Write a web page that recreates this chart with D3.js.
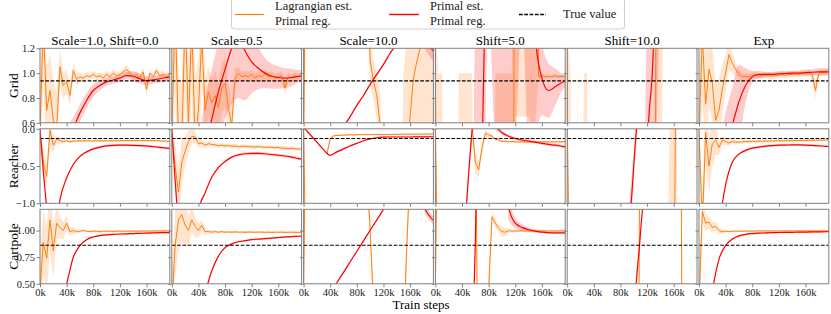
<!DOCTYPE html>
<html>
<head>
<meta charset="utf-8">
<script src="https://cdn.jsdelivr.net/npm/d3@7"></script>
<style>
  body { margin: 0; background: #fff; }
  text { font-family: "Liberation Serif", "DejaVu Serif", serif; }
</style>
</head>
<body>
<svg id="chart" width="831" height="314"></svg>
<script>
// train steps (in thousands)
const steps = [0, 5, 10, 15, 20, 25, 30, 35, 40, 45, 50, 55, 60, 65, 70, 75, 80, 85, 90, 95,
  100, 105, 110, 115, 120, 125, 130, 135, 140, 145, 150, 155, 160, 165, 170, 175, 180, 185, 190, 195]
const stepsPrimal = [0, 10, 20, 30, 40, 50, 60, 70, 80, 90, 100, 110, 120, 130, 140, 150, 160, 170, 180, 190, 200]

const columns = ['Scale=1.0, Shift=0.0', 'Scale=0.5', 'Scale=10.0', 'Shift=5.0', 'Shift=10.0', 'Exp']
const rows = ['Grid', 'Reacher', 'Cartpole']
const trueValues = [0.938, -0.13, 0.862]
const yDomains = [[0.6, 1.2], [-1.0, 0.0], [0.5, 1.2]]
const yTicks = [[0.6, 0.8, 1.0, 1.2], [-1.0, -0.5, 0.0], [0.5, 0.75, 1.0]]
const xTicks = [0, 40, 80, 120, 160]
const legendNames = [['Lagrangian est.', 'Primal reg.'], ['Primal est.', 'Primal reg.'], ['True value']]

// ---- Grid ----
const gridLag = [
  [0.55, 1.4, 0.7, 0.86, 0.62, 0.55, 1.05, 0.9, 0.93, 0.82,
    1.02, 0.95, 0.97, 0.96, 0.98, 0.97, 0.99, 0.97, 0.98, 0.96,
    0.99, 0.97, 1.0, 0.98, 0.99, 1.01, 1.03, 1.0, 0.97, 0.99,
    0.96, 1.01, 0.87, 1.0, 0.97, 1.02, 0.98, 0.99, 0.97, 0.98],
  [0.5, 1.5, 0.5, 0.4, 1.5, 0.6, 1.4, 0.45, 0.7, 1.3,
    0.7, 0.85, 0.76, 0.82, 0.72, 0.88, 0.92, 0.72, 0.58, 0.96,
    1.0, 0.97, 0.98, 0.97, 0.99, 0.96, 0.98, 0.97, 0.99, 0.97,
    0.98, 0.96, 0.97, 0.98, 0.88, 0.97, 0.96, 0.98, 0.97, 0.98],
  [0.4, 3, 3, 3, 3, 3, 3, 3, 3, 3,
    3, 3, 3, 3, 3, 3, 3, 3, 3, 2,
    1.1, 0.94, 0.82, 0.58, -0.5, -1, -1, -1, -1, -1,
    -0.5, 0.3, 0.65, 0.96, 1.09, 1.2, 2.5, 3, 3, 3],
  [1.25, -5, -5, -5, -5, -5, -5, -5, -5, -5,
    -5, -5, -5, -5, -5, -5, -5, -5, -5, -5,
    -5, -5, -5, -5, 5, 5, 5, 5, 5, 5,
    5, 0.97, 0.98, 0.97, 0.975, 0.97, 0.98, 0.97, 0.975, 0.97],
  [1.25, -5, -5, -5, -5, -5, -5, -5, -5, -5,
    -5, -5, -5, -5, -5, -5, -5, -5, -5, -5,
    -5, -5, -5, -5, -5, -5, -5, 5, 5, 5,
    5, 5, 5, 5, 5, 5, 5, 5, 5, 5],
  [0.5, 1.3, 0.75, 1.03, 0.92, 0.62, 0.7, 0.87, 1.0, 1.15,
    1.08, 1.03, 0.99, 0.97, 0.975, 0.97, 0.98, 0.985, 0.975, 0.98,
    0.985, 0.98, 0.975, 0.98, 0.985, 0.99, 0.98, 0.99, 0.99, 0.995,
    0.99, 1.0, 0.995, 1.0, 0.99, 0.86, 1.0, 1.005, 1.01, 1.01]
]
const gridLagSd = [
  [0.3, 0.5, 0.35, 0.3, 0.3, 0.3, 0.15, 0.1, 0.1, 0.08,
    0.06, 0.05, 0.04, 0.03, 0.03, 0.03, 0.03, 0.03, 0.03, 0.03,
    0.03, 0.03, 0.03, 0.03, 0.03, 0.03, 0.04, 0.03, 0.03, 0.03,
    0.03, 0.03, 0.06, 0.03, 0.03, 0.03, 0.03, 0.03, 0.03, 0.03],
  [0.5, 0.6, 0.5, 0.5, 0.6, 0.5, 0.5, 0.5, 0.4, 0.4,
    0.25, 0.2, 0.2, 0.2, 0.2, 0.2, 0.2, 0.2, 0.2, 0.08,
    0.05, 0.04, 0.04, 0.04, 0.04, 0.04, 0.04, 0.04, 0.04, 0.04,
    0.035, 0.035, 0.035, 0.035, 0.06, 0.035, 0.03, 0.03, 0.03, 0.03],
  [0.5, 0.3, 0.3, 0.3, 0.3, 0.3, 0.3, 0.3, 0.3, 0.3,
    0.3, 0.3, 0.3, 0.3, 0.3, 0.3, 0.3, 0.3, 0.3, 0.5,
    0.2, 0.15, 0.2, 0.25, 0.3, 0.3, 0.3, 0.3, 0.3, 0.3,
    1.5, 1.0, 0.7, 0.6, 0.6, 0.7, 2.0, 2.5, 2.5, 2.5],
  [0.1, 6, 6, 2, 2, 2, 2, 6, 6, 6,
    6, 6, 2, 2, 2, 2, 2, 2, 6, 6,
    6, 6, 6, 6, 4.35, 4.35, 4.35, 4.35, 4.35, 4.4,
    4.4, 0.03, 0.02, 0.02, 0.015, 0.015, 0.015, 0.015, 0.015, 0.015],
  [0.1, 6, 2, 6, 2, 6, 6, 2, 2, 2,
    2, 2, 2, 2, 2, 2, 2, 2, 2, 2,
    2, 2, 2, 2, 2, 2, 2, 6, 6, 3,
    3, 3, 3, 3, 3, 3, 3, 3, 3, 3],
  [0.5, 0.5, 0.4, 0.3, 0.3, 0.3, 0.25, 0.2, 0.15, 0.12,
    0.08, 0.05, 0.04, 0.03, 0.025, 0.025, 0.025, 0.025, 0.025, 0.025,
    0.025, 0.025, 0.025, 0.025, 0.025, 0.025, 0.025, 0.025, 0.025, 0.025,
    0.025, 0.025, 0.025, 0.025, 0.03, 0.07, 0.03, 0.025, 0.025, 0.025]
]
const gridPri = [
  [-0.5, -0.1, 0.18, 0.36, 0.47, 0.56, 0.68, 0.78, 0.86, 0.9, 0.93, 0.945, 0.96, 0.98, 0.975, 0.955, 0.94, 0.945, 0.955, 0.965, 0.97],
  [-1.2, -0.9, -0.6, -0.3, 0.05, 0.4, 0.63, 0.85, 1.03, 1.2, 1.3, 1.18, 1.09, 1.04, 1.0, 0.975, 0.965, 0.96, 0.965, 0.975, 0.98],
  [0.06, 0.145, 0.23, 0.31, 0.4, 0.48, 0.57, 0.65, 0.74, 0.82, 0.91, 0.99, 1.07, 1.16, 1.24, 1.33, 1.41, 1.45, 1.3, 1.21, 1.15],
  [-5, -5, -5, -5, -5, -5, -3, 0.3, 3, 5, 5, 5, 5, 5, 5, 1.3, 0.96, 0.86, 0.89, 0.925, 0.94],
  [-5, -5, -5, -5, -5, -5, -5, -5, -5, -5, -5, -5, 0.3, 1.3, 5, 5, 5, 5, 5, 5, 5],
  [-1.5, -0.8, -0.3, 0.1, 0.38, 0.58, 0.77, 0.9, 0.97, 0.99, 0.99, 0.99, 0.995, 0.997, 1.0, 1.0, 1.005, 1.007, 1.01, 1.01, 1.01]
]
const gridPriSd = [
  [0.1, 0.1, 0.1, 0.1, 0.1, 0.08, 0.07, 0.06, 0.05, 0.04, 0.03, 0.03, 0.03, 0.03, 0.04, 0.04, 0.035, 0.03, 0.03, 0.03, 0.03],
  [0.3, 0.3, 0.3, 0.3, 0.35, 0.4, 0.4, 0.4, 0.4, 0.45, 0.5, 0.4, 0.25, 0.17, 0.12, 0.1, 0.09, 0.08, 0.07, 0.05, 0.05],
  [0.01, 0.01, 0.01, 0.01, 0.01, 0.01, 0.01, 0.01, 0.01, 0.01, 0.01, 0.01, 0.01, 0.01, 0.01, 0.01, 0.02, 0.05, 0.08, 0.08, 0.08],
  [1, 1, 1, 1, 1, 1, 4.5, 2, 1.5, 4.5, 4.5, 4.5, 4.5, 3.5, 4.6, 0.8, 0.3, 0.22, 0.15, 0.07, 0.04],
  [1, 1, 1, 1, 1, 1, 1, 1, 1, 1, 1, 3, 1.2, 1.5, 3.5, 3, 3, 3, 3, 3, 3],
  [0.3, 0.3, 0.3, 0.3, 0.3, 0.3, 0.3, 0.14, 0.05, 0.03, 0.02, 0.02, 0.02, 0.02, 0.02, 0.02, 0.025, 0.025, 0.03, 0.03, 0.03]
]

// ---- Reacher ----
const reacherLag = [
  [-0.05, -0.45, -0.64, -0.02, -0.22, -0.14, -0.16, -0.17, -0.16, -0.175,
    -0.165, -0.165, -0.16, -0.165, -0.16, -0.162, -0.165, -0.16, -0.163, -0.16,
    -0.162, -0.158, -0.16, -0.162, -0.158, -0.16, -0.157, -0.16, -0.158, -0.16,
    -0.157, -0.16, -0.158, -0.16, -0.157, -0.16, -0.162, -0.165, -0.167, -0.17],
  [-0.05, -0.5, -0.85, -0.45, -0.3, -0.17, -0.1, -0.11, -0.2, -0.19,
    -0.22, -0.2, -0.21, -0.215, -0.225, -0.22, -0.23, -0.225, -0.235, -0.23,
    -0.24, -0.235, -0.235, -0.24, -0.24, -0.245, -0.24, -0.245, -0.25, -0.245,
    -0.25, -0.255, -0.25, -0.26, -0.26, -0.265, -0.26, -0.27, -0.27, -0.275],
  [0.1, -3, null, null, null, null, null, -0.34, -0.13, -0.095,
    -0.09, -0.088, -0.085, -0.082, -0.08, -0.083, -0.08, -0.078, -0.08, -0.078,
    -0.077, -0.078, -0.076, -0.077, -0.075, -0.076, -0.075, -0.074, -0.075, -0.073,
    -0.074, -0.073, -0.072, -0.073, -0.072, -0.071, -0.072, -0.071, -0.07, -0.07],
  [0.1, -3, null, null, null, null, null, null, null, null,
    null, 0.05, -0.45, -0.55, -0.26, -0.06, -0.08, -0.1, -0.14, -0.15,
    -0.17, -0.165, -0.175, -0.17, -0.175, -0.178, -0.175, -0.177, -0.175, -0.178,
    -0.176, -0.175, -0.177, -0.175, -0.176, -0.174, -0.175, -0.173, -0.174, -0.172],
  [0.1, -3, null, null, null, null, null, null, null, null,
    null, null, null, null, null, null, null, null, null, null,
    null, null, null, null, null, null, null, null, null, null,
    -3, -3, -3, 3, null, null, null, null, null, null],
  [-0.02, -1.3, -0.05, -0.5, -0.2, -0.15, -0.25, -0.15, -0.17, -0.19,
    -0.17, -0.18, -0.18, -0.175, -0.17, -0.172, -0.168, -0.17, -0.165, -0.167,
    -0.165, -0.163, -0.165, -0.162, -0.16, -0.162, -0.16, -0.158, -0.16, -0.157,
    -0.158, -0.155, -0.157, -0.155, -0.153, -0.155, -0.152, -0.153, -0.15, -0.15]
]
const reacherLagSd = [
  [0.05, 0.2, 0.15, 0.2, 0.1, 0.05, 0.04, 0.03, 0.02, 0.02,
    0.02, 0.015, 0.015, 0.015, 0.015, 0.015, 0.015, 0.015, 0.015, 0.015,
    0.015, 0.015, 0.015, 0.015, 0.015, 0.015, 0.015, 0.015, 0.015, 0.015,
    0.015, 0.015, 0.015, 0.015, 0.015, 0.015, 0.015, 0.015, 0.015, 0.015],
  [0.1, 0.3, 0.3, 0.3, 0.2, 0.15, 0.1, 0.08, 0.06, 0.05,
    0.04, 0.035, 0.03, 0.03, 0.03, 0.03, 0.03, 0.03, 0.03, 0.03,
    0.025, 0.025, 0.025, 0.025, 0.025, 0.025, 0.025, 0.025, 0.025, 0.025,
    0.025, 0.025, 0.025, 0.025, 0.025, 0.025, 0.025, 0.025, 0.025, 0.025],
  [0.2, 0.2, null, null, null, null, null, 0.05, 0.02, 0.015,
    0.01, 0.01, 0.01, 0.01, 0.01, 0.01, 0.01, 0.01, 0.01, 0.01,
    0.01, 0.01, 0.01, 0.01, 0.01, 0.01, 0.01, 0.01, 0.01, 0.01,
    0.01, 0.01, 0.01, 0.01, 0.01, 0.01, 0.01, 0.01, 0.01, 0.01],
  [0.2, 0.2, null, null, null, null, null, null, null, null,
    null, 0.1, 0.15, 0.1, 0.08, 0.04, 0.03, 0.025, 0.02, 0.02,
    0.015, 0.015, 0.015, 0.015, 0.015, 0.015, 0.015, 0.015, 0.015, 0.015,
    0.015, 0.015, 0.015, 0.015, 0.015, 0.015, 0.015, 0.015, 0.015, 0.015],
  [0.5, 1, null, null, null, null, null, null, null, null,
    null, null, null, null, null, null, null, null, null, null,
    null, null, null, null, null, null, null, null, null, null,
    1, 3.5, 3.5, 3.5, null, null, null, null, null, null],
  [0.1, 0.4, 0.4, 0.35, 0.3, 0.2, 0.1, 0.06, 0.05, 0.04,
    0.03, 0.03, 0.025, 0.025, 0.02, 0.02, 0.02, 0.02, 0.02, 0.02,
    0.02, 0.02, 0.02, 0.02, 0.02, 0.02, 0.02, 0.02, 0.02, 0.02,
    0.02, 0.02, 0.02, 0.02, 0.02, 0.02, 0.02, 0.02, 0.02, 0.02]
]
const reacherPri = [
  [0.0, -1.05, -1.6, -0.95, -0.66, -0.48, -0.37, -0.31, -0.27, -0.245, -0.23, -0.222, -0.22, -0.22, -0.222, -0.225, -0.23, -0.24, -0.25, -0.26, -0.265],
  [0.0, -1.3, -2.2, -1.8, -1.1, -0.86, -0.65, -0.52, -0.44, -0.38, -0.35, -0.335, -0.33, -0.33, -0.335, -0.345, -0.355, -0.365, -0.38, -0.4, -0.41],
  [0.02, -0.08, -0.18, -0.28, -0.355, -0.31, -0.27, -0.23, -0.195, -0.16, -0.135, -0.12, -0.113, -0.11, -0.11, -0.11, -0.11, -0.108, -0.108, -0.107, -0.107],
  [-5, -5, -5, -4, -2, -0.6, 0.5, 1.5, 1.0, 0.06, -0.05, -0.1, -0.13, -0.15, -0.165, -0.18, -0.195, -0.21, -0.22, -0.235, -0.245],
  [-5, -5, -5, -5, -5, -5, -5, -5, -5, -2, -0.5, 0.8, 3, 5, 5, 5, 5, 5, 5, 5, 5],
  [-3, -2.5, -1.9, -1.3, -0.75, -0.45, -0.34, -0.29, -0.26, -0.245, -0.232, -0.225, -0.22, -0.218, -0.216, -0.216, -0.218, -0.222, -0.228, -0.235, -0.24]
]
const reacherPriSd = [
  [0.015, 0.015, 0.015, 0.015, 0.015, 0.015, 0.015, 0.015, 0.015, 0.015, 0.015, 0.015, 0.015, 0.015, 0.015, 0.015, 0.015, 0.015, 0.015, 0.015, 0.015],
  [0.015, 0.015, 0.015, 0.015, 0.015, 0.015, 0.015, 0.015, 0.015, 0.015, 0.02, 0.02, 0.02, 0.02, 0.02, 0.02, 0.02, 0.02, 0.02, 0.02, 0.02],
  [0.01, 0.01, 0.01, 0.01, 0.01, 0.01, 0.01, 0.01, 0.01, 0.01, 0.01, 0.01, 0.01, 0.01, 0.01, 0.01, 0.01, 0.01, 0.01, 0.01, 0.01],
  [0.3, 0.3, 0.3, 0.3, 0.2, 0.1, 0.1, 0.2, 0.2, 0.05, 0.03, 0.02, 0.02, 0.02, 0.02, 0.02, 0.02, 0.02, 0.02, 0.02, 0.02],
  [0.5, 0.5, 0.5, 0.5, 0.5, 0.5, 0.5, 0.5, 0.5, 0.5, 0.2, 0.3, 1, 1, 1, 1, 1, 1, 1, 1, 1],
  [0.015, 0.015, 0.015, 0.015, 0.015, 0.015, 0.015, 0.015, 0.015, 0.015, 0.015, 0.015, 0.015, 0.015, 0.015, 0.015, 0.015, 0.015, 0.015, 0.015, 0.015]
]

// ---- Cartpole ----
const cartpoleLag = [
  [0.45, 0.89, 0.74, 1.1, 0.81, 1.07, 1.03, 1.0, 1.07, 0.99,
    1.0, 0.99, 0.995, 1.0, 0.995, 0.99, 0.995, 0.993, 0.99, 0.995,
    0.993, 0.995, 0.992, 0.994, 0.995, 0.993, 0.995, 0.994, 0.996, 0.994,
    0.995, 0.996, 0.995, 0.996, 0.997, 0.996, 0.997, 0.996, 0.997, 0.997],
  [0.3, 0.86, 1.1, 1.15, 1.05, 1.0, 1.1, 1.04, 1.0, 1.05,
    0.99, 0.99, 0.985, 0.99, 0.985, 0.99, 0.985, 0.987, 0.985, 0.988,
    0.985, 0.986, 0.984, 0.986, 0.985, 0.984, 0.986, 0.985, 0.984, 0.985,
    0.983, 0.985, 0.984, 0.985, 0.983, 0.984, 0.985, 0.984, 0.983, 0.984],
  [0.45, 3, 3, 3, 3, 3, 3, 3, 3, 3,
    3, 3, 3, 3, 3, 3, 3, 3, 3, 1.6,
    1.0, 0.3, -1, -1, -1, -1, -1, -1, -1, -1,
    0.0, 0.85, 1.6, 3, 3, 3, 3, 3, 3, 3],
  [0.45, 3, 3, 3, 3, 3, 3, 3, 3, 3,
    3, 3, 3, -2, -1, -1, 0.45, 1.13, 1.07, 1.02,
    0.99, 0.985, 1.0, 0.995, 0.997, 0.996, 0.997, 0.996, 0.997, 0.997,
    0.996, 0.997, 0.997, 0.996, 0.997, 0.997, 0.996, 0.997, 0.997, 0.997],
  [0.45, -3, -3, -3, -3, -3, -3, -3, -3, -3,
    -3, -3, -3, -3, -3, -3, -3, -3, -3, -3,
    -3, -3, 3, 3, 3, 3, 3, 3, 3, 3,
    3, 3, 3, 3, 3, -3, -3, -3, -3, -3],
  [0.3, 1.18, 1.07, 1.08, 1.03, 1.04, 1.0, 0.99, 0.995, 0.99,
    0.995, 0.993, 0.996, 0.994, 0.995, 0.996, 0.995, 0.996, 0.997, 0.996,
    0.997, 0.996, 0.997, 0.997, 0.996, 0.997, 0.997, 0.998, 0.997, 0.997,
    0.998, 0.997, 0.997, 0.998, 0.997, 0.998, 0.997, 0.998, 0.997, 0.997]
]
const cartpoleLagSd = [
  [0.3, 0.3, 0.3, 0.3, 0.25, 0.15, 0.1, 0.08, 0.07, 0.04,
    0.03, 0.02, 0.015, 0.012, 0.01, 0.01, 0.01, 0.01, 0.01, 0.01,
    0.01, 0.01, 0.01, 0.01, 0.01, 0.01, 0.01, 0.01, 0.01, 0.01,
    0.01, 0.01, 0.01, 0.01, 0.01, 0.01, 0.01, 0.01, 0.01, 0.01],
  [0.3, 0.3, 0.3, 0.25, 0.2, 0.15, 0.12, 0.1, 0.07, 0.05,
    0.03, 0.02, 0.015, 0.012, 0.01, 0.01, 0.01, 0.01, 0.01, 0.01,
    0.01, 0.01, 0.01, 0.01, 0.01, 0.01, 0.01, 0.01, 0.01, 0.01,
    0.01, 0.01, 0.01, 0.01, 0.01, 0.01, 0.01, 0.01, 0.01, 0.01],
  [0.3, 0.5, 0.5, 0.5, 0.5, 0.5, 0.5, 0.5, 0.5, 0.5,
    0.5, 0.5, 0.5, 0.5, 0.5, 0.5, 0.5, 0.5, 0.5, 0.3,
    0.05, 0.2, 0.5, 0.5, 0.5, 0.5, 0.5, 0.5, 0.5, 0.5,
    0.3, 0.1, 0.3, 0.5, 0.5, 0.5, 0.5, 0.5, 0.5, 0.5],
  [0.3, 0.5, 0.5, 0.5, 0.5, 0.5, 0.5, 0.5, 0.5, 0.5,
    0.5, 0.5, 0.5, 0.5, 0.3, 0.3, 0.2, 0.05, 0.04, 0.04,
    0.05, 0.04, 0.02, 0.015, 0.01, 0.01, 0.01, 0.01, 0.01, 0.01,
    0.01, 0.01, 0.01, 0.01, 0.01, 0.01, 0.01, 0.01, 0.01, 0.01],
  [0.3, 0.5, 0.5, 0.5, 0.5, 0.5, 0.5, 0.5, 0.5, 0.5,
    0.5, 0.5, 0.5, 0.5, 0.5, 0.5, 0.5, 0.5, 0.5, 0.5,
    0.5, 0.5, 0.5, 0.5, 0.5, 0.5, 0.5, 0.5, 0.5, 0.5,
    0.5, 0.5, 0.5, 0.5, 0.5, 0.5, 0.5, 0.5, 0.5, 0.5],
  [0.3, 0.1, 0.08, 0.06, 0.05, 0.04, 0.03, 0.02, 0.008, 0.008,
    0.008, 0.008, 0.008, 0.008, 0.008, 0.008, 0.008, 0.008, 0.008, 0.008,
    0.008, 0.008, 0.008, 0.008, 0.008, 0.008, 0.008, 0.008, 0.008, 0.008,
    0.008, 0.008, 0.008, 0.008, 0.008, 0.008, 0.008, 0.008, 0.008, 0.008]
]
const cartpolePri = [
  [-1, -0.3, 0.05, 0.3, 0.5, 0.75, 0.86, 0.915, 0.94, 0.953, 0.96, 0.965, 0.968, 0.97, 0.972, 0.974, 0.976, 0.978, 0.98, 0.981, 0.982],
  [-1, -0.6, -0.2, 0.05, 0.25, 0.42, 0.62, 0.76, 0.84, 0.875, 0.895, 0.905, 0.915, 0.92, 0.925, 0.93, 0.935, 0.94, 0.943, 0.947, 0.95],
  [0.017, 0.115, 0.214, 0.313, 0.411, 0.51, 0.608, 0.707, 0.806, 0.904, 1.003, 1.1, 1.2, 1.3, 1.4, 1.5, 1.6, 1.69, 1.25, 1.13, 1.07],
  [-5, -5, -5, -5, -3, -1.5, 0.9, 5, 5, 5, 5, 1.22, 1.07, 1.03, 1.008, 0.995, 0.985, 0.98, 0.978, 0.978, 0.98],
  [-5, -5, -5, -5, -5, -5, -5, -5, -5, -5, 0.03, 0.97, 1.9, 5, 5, 5, 5, 5, 5, 5, 5],
  [-1, -0.1, 0.42, 0.73, 0.86, 0.92, 0.95, 0.965, 0.972, 0.976, 0.978, 0.98, 0.982, 0.983, 0.984, 0.985, 0.986, 0.987, 0.988, 0.989, 0.99]
]
const cartpolePriSd = [
  [0.008, 0.008, 0.008, 0.008, 0.008, 0.008, 0.008, 0.008, 0.008, 0.008, 0.008, 0.008, 0.008, 0.008, 0.008, 0.008, 0.008, 0.008, 0.008, 0.008, 0.008],
  [0.008, 0.008, 0.008, 0.008, 0.008, 0.008, 0.008, 0.008, 0.008, 0.008, 0.008, 0.008, 0.008, 0.008, 0.008, 0.008, 0.008, 0.008, 0.008, 0.008, 0.008],
  [0.01, 0.01, 0.01, 0.01, 0.01, 0.01, 0.01, 0.01, 0.01, 0.01, 0.01, 0.01, 0.01, 0.01, 0.01, 0.01, 0.02, 0.03, 0.04, 0.04, 0.04],
  [0.5, 0.5, 0.5, 0.5, 0.5, 0.3, 0.1, 0.5, 0.5, 0.5, 0.5, 0.12, 0.05, 0.03, 0.02, 0.015, 0.01, 0.01, 0.01, 0.01, 0.01],
  [0.02, 0.02, 0.02, 0.02, 0.02, 0.02, 0.02, 0.02, 0.02, 0.02, 0.02, 0.02, 0.02, 0.02, 0.02, 0.02, 0.02, 0.02, 0.02, 0.02, 0.02],
  [0.008, 0.008, 0.008, 0.008, 0.008, 0.008, 0.008, 0.008, 0.008, 0.008, 0.008, 0.008, 0.008, 0.008, 0.008, 0.008, 0.008, 0.008, 0.008, 0.008, 0.008]
]

const lagRows = [gridLag, reacherLag, cartpoleLag]
const lagSdRows = [gridLagSd, reacherLagSd, cartpoleLagSd]
const priRows = [gridPri, reacherPri, cartpolePri]
const priSdRows = [gridPriSd, reacherPriSd, cartpolePriSd]

const orange = '#ff7f0e'
const red = '#ff0000'
const frameColor = '#808080'
const left = 40
const panelW = 129.8
const gapX = 2
const top0 = 48.3
const panelH = 74.5
const stepY = 80.5

const svg = d3.select('#chart')
svg.append('rect').attr('width', 831).attr('height', 314).attr('fill', '#fff')

const x = d3.scaleLinear().domain([0, 195]).range([0, panelW])
const yFormats = [d3.format('.1f'), d3.format('.1f'), d3.format('.2f')]

function series (xs, vs, sds) {
  return xs.map((s, i) => ({s: s, v: vs[i], sd: sds[i]}))
}

rows.forEach((rowName, r) => {
  const y = d3.scaleLinear().domain(yDomains[r]).range([panelH, 0])
  const rowTop = top0 + r * stepY

  columns.forEach((colName, c) => {
    const g = svg.append('g')
      .attr('transform', `translate(${left + c * (panelW + gapX)},${rowTop})`)
    const clipId = `clip-${r}-${c}`
    g.append('clipPath').attr('id', clipId)
      .append('rect').attr('width', panelW).attr('height', panelH)
    const plot = g.append('g').attr('clip-path', `url(#${clipId})`)

    const lag = series(steps, lagRows[r][c], lagSdRows[r][c])
    const pri = series(stepsPrimal, priRows[r][c], priSdRows[r][c])

    const band = d3.area()
      .defined(d => d.v != null)
      .x(d => x(d.s))
      .y0(d => y(d.v - d.sd))
      .y1(d => y(d.v + d.sd))
    const line = d3.line()
      .defined(d => d.v != null)
      .x(d => x(d.s))
      .y(d => y(d.v))

    plot.append('path').datum(lag)
      .attr('d', band)
      .attr('fill', orange).attr('fill-opacity', 0.2)
    plot.append('path').datum(pri)
      .attr('d', band.curve(d3.curveMonotoneX))
      .attr('fill', red).attr('fill-opacity', 0.2)
    plot.append('path').datum(lag)
      .attr('d', line)
      .attr('fill', 'none').attr('stroke', orange).attr('stroke-width', 1)
    plot.append('path').datum(pri)
      .attr('d', line.curve(d3.curveMonotoneX))
      .attr('fill', 'none').attr('stroke', red).attr('stroke-width', 1.2)
    plot.append('line')
      .attr('x1', 0).attr('x2', panelW)
      .attr('y1', y(trueValues[r])).attr('y2', y(trueValues[r]))
      .attr('stroke', '#000').attr('stroke-width', 1.2)
      .attr('stroke-dasharray', '3.7,1.6')

    // axes
    const yAxis = d3.axisLeft(y).tickValues(yTicks[r]).tickSize(3.5).tickPadding(1.5)
      .tickFormat(c === 0 ? yFormats[r] : '')
    const xAxis = d3.axisBottom(x).tickValues(xTicks).tickSize(3.5).tickPadding(1.5)
      .tickFormat(r === rows.length - 1 ? d => d + 'k' : '')
    const ya = g.append('g').call(yAxis)
    const xa = g.append('g').attr('transform', `translate(0,${panelH})`).call(xAxis)
    ;[ya, xa].forEach(a => {
      a.select('.domain').remove()
      a.selectAll('line').attr('stroke', frameColor)
      a.selectAll('text').attr('font-size', 10.5).attr('fill', '#222')
        .style('font-family', '"Liberation Serif", serif')
    })

    g.append('rect')
      .attr('width', panelW).attr('height', panelH)
      .attr('fill', 'none').attr('stroke', frameColor).attr('stroke-width', 1)

    if (r === 0) {
      g.append('text')
        .attr('x', panelW / 2).attr('y', -3)
        .attr('text-anchor', 'middle')
        .attr('font-size', 13)
        .text(colName)
    }
  })

  svg.append('text')
    .attr('transform', `translate(18,${rowTop + panelH / 2}) rotate(-90)`)
    .attr('text-anchor', 'middle')
    .attr('font-size', 13.5)
    .text(rowName)
})

svg.append('text')
  .attr('x', 421).attr('y', 309)
  .attr('text-anchor', 'middle')
  .attr('font-size', 13)
  .text('Train steps')

// legend
const legend = svg.append('g')
legend.append('rect')
  .attr('x', 231.5).attr('y', -4).attr('width', 393).attr('height', 33)
  .attr('rx', 3).attr('fill', '#fff').attr('stroke', '#d0d0d0')
const legendItems = [
  {x0: 235, x1: 264, tx: 275, color: orange, dash: null},
  {x0: 389, x1: 419, tx: 430, color: red, dash: null},
  {x0: 519, x1: 546, tx: 563, color: '#000', dash: '3.7,1.6'}
]
legendItems.forEach((it, i) => {
  legend.append('line')
    .attr('x1', it.x0).attr('x2', it.x1).attr('y1', 14.5).attr('y2', 14.5)
    .attr('stroke', it.color).attr('stroke-width', i === 0 ? 1.2 : 1.4)
    .attr('stroke-dasharray', it.dash)
  const names = legendNames[i]
  const t = legend.append('text').attr('x', it.tx).attr('font-size', 12.5).attr('fill', '#222')
  if (names.length === 1) {
    t.attr('y', 18).text(names[0])
  } else {
    names.forEach((n, j) => {
      t.append('tspan').attr('x', it.tx).attr('y', 10 + j * 14.5).text(n)
    })
  }
})
</script>
</body>
</html>
